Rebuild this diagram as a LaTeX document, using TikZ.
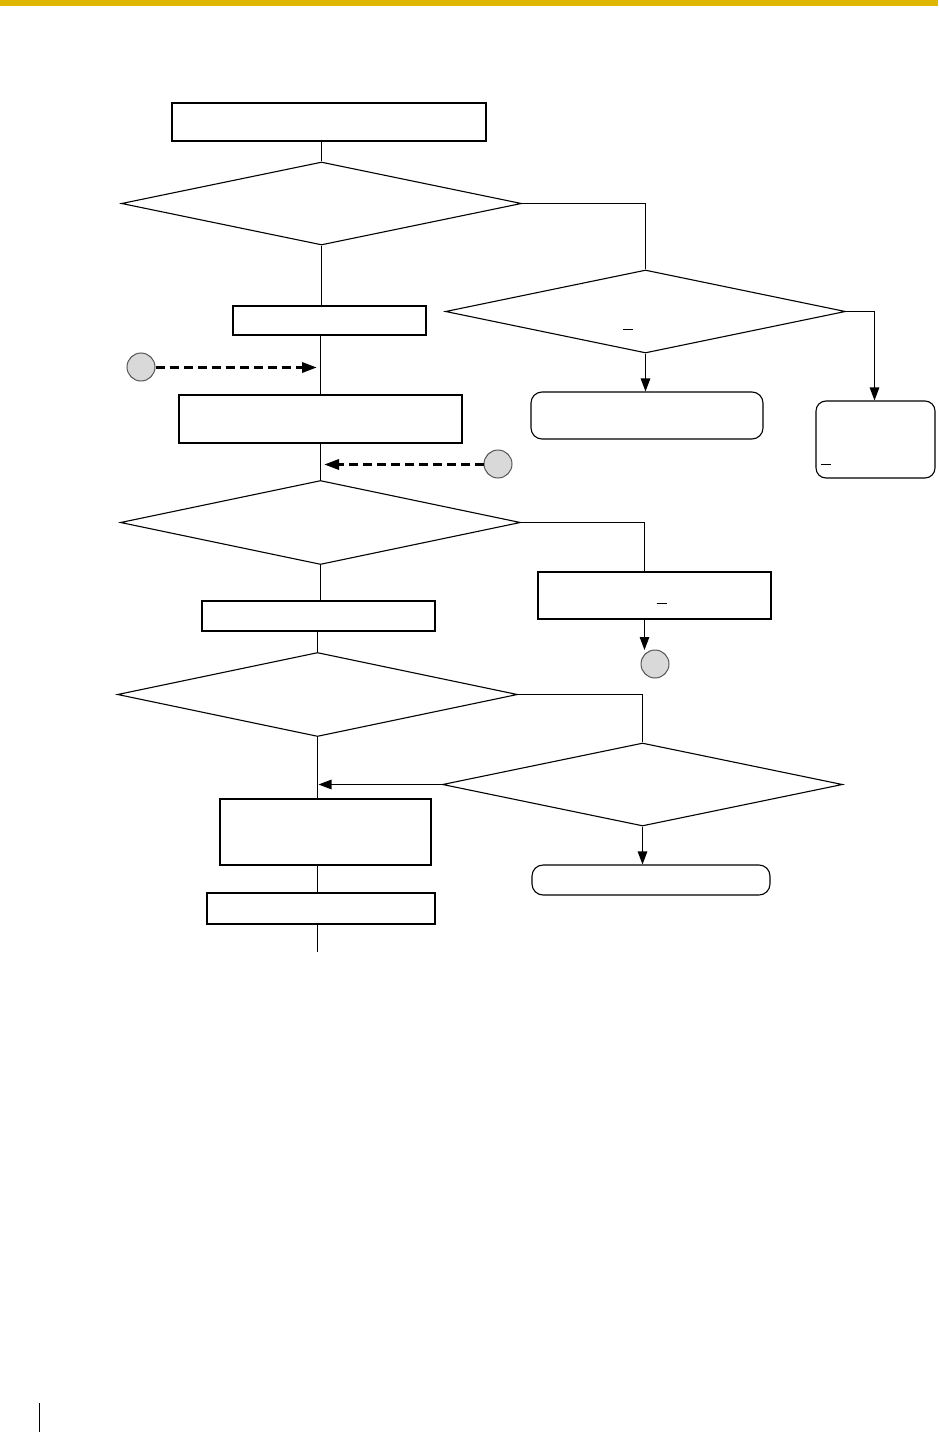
\documentclass[tikz,border=0pt]{standalone}
\usetikzlibrary{shapes.geometric,arrows.meta}
\definecolor{barcol}{RGB}{223,183,0}
\definecolor{dotfill}{RGB}{217,217,217}
\definecolor{dotline}{RGB}{85,85,85}
\begin{document}
\begin{tikzpicture}[x=1bp,y=-1bp,
  line width=1.3bp,
  box/.style={draw,rectangle,inner sep=0bp,line width=1.1bp},
  rbox/.style={draw,rectangle,rounded corners=11bp,inner sep=0bp,line width=1.1bp},
  dia/.style={draw,diamond,inner sep=0bp,minimum width=400bp,minimum height=83bp,line width=1.1bp},
  dot/.style={draw=dotline,fill=dotfill,circle,minimum size=28bp,inner sep=0bp,line width=1bp},
  arr/.style={-{Triangle[length=13bp,width=9.5bp]},line width=1.3bp},
  darr/.style={-{Triangle[length=15bp,width=10bp]},line width=3.2bp,dash pattern=on 9bp off 5bp},
  tick/.style={line width=1bp}]
\useasboundingbox (0,0) rectangle (938,1432);
\fill[barcol] (0,0) rectangle (938,6);
% left trunk
\node[box,minimum width=314bp,minimum height=38bp] (b1) at (329,122) {};
\node[dia] (d1) at (321.5,203.5) {};
\node[box,minimum width=193bp,minimum height=29bp] (b2) at (329.5,320.5) {};
\node[box,minimum width=283bp,minimum height=48bp] (b3) at (320.5,419) {};
\node[dia,minimum height=84bp] (d2) at (320.5,522.5) {};
\node[box,minimum width=233bp,minimum height=30bp] (b4) at (318.5,616) {};
\node[dia,minimum height=84bp] (d3) at (317.5,694.5) {};
\node[box,minimum width=211bp,minimum height=66bp] (b5) at (325.5,832) {};
\node[box,minimum width=228bp,minimum height=31bp] (b6) at (321,908.5) {};
% right side
\node[dia] (dr1) at (645.5,311.5) {};
\node[rbox,minimum width=232bp,minimum height=47bp] (rr1) at (647,415.5) {};
\node[rbox,rounded corners=10bp,minimum width=119bp,minimum height=77bp] (rr2) at (875.5,439.5) {};
\node[box,minimum width=233bp,minimum height=47bp] (rr3) at (654.5,595.5) {};
\node[dia] (dr4) at (642.5,784.5) {};
\node[rbox,minimum width=238bp,minimum height=30bp] (rr4) at (651,880) {};
% connector dots
\node[dot] (c1) at (141,367) {};
\node[dot] (c2) at (498,464) {};
\node[dot] (c3) at (655,664) {};
\coordinate (t1) at (317,367.5);
\coordinate (t2) at (324,464.5);
\coordinate (k2) at (644.5,522.5);
\coordinate (t3) at (644.5,650);
\coordinate (kr2) at (874.5,311.5);
\coordinate (endp) at (317.5,951.7);
% trunk lines
\draw (d1.north |- b1.south) -- (d1.north);
\draw (d1.south) -- (d1.south |- b2.north);
\draw (b2.south -| b3.north) -- (b3.north);
\draw (b3.south -| d2.north) -- (d2.north);
\draw (d2.south) -- (d2.south |- b4.north);
\draw (d3.north |- b4.south) -- (d3.north);
\draw (d3.south) -- (d3.south |- b5.north);
\draw (d3.south |- b5.south) -- (d3.south |- b6.north);
\draw (d3.south |- b6.south) -- (endp);
% right branches
\draw (d1.east) -- (dr1.north |- d1.east) -- (dr1.north);
\draw[arr] (dr1.south) -- (dr1.south |- rr1.north);
\draw[arr] (dr1.east) -- (kr2) -- (kr2 |- rr2.north);
\draw (d2.east) -- (k2) -- (k2 |- rr3.north);
\draw[arr] (k2 |- rr3.south) -- (t3);
\draw (d3.east) -- (dr4.north |- d3.east) -- (dr4.north);
\draw[arr] (dr4.west) -- ([xshift=1bp]d3.south |- dr4.west);
\draw[arr] (dr4.south) -- (dr4.south |- rr4.north);
% dashed entry arrows
\draw[darr] (c1.east |- t1) -- (t1);
\draw[darr] (c2.west |- t2) -- (t2);
% small marks
\draw[tick] (623.3,329.5) -- (632.7,329.5);
\draw[tick] (821,464.5) -- (831,464.5);
\draw[tick] (656.7,603.5) -- (667.3,603.5);
% page margin line
\draw[line width=1.3bp] (39.5,1403.3) -- (39.5,1432);
\end{tikzpicture}
\end{document}
